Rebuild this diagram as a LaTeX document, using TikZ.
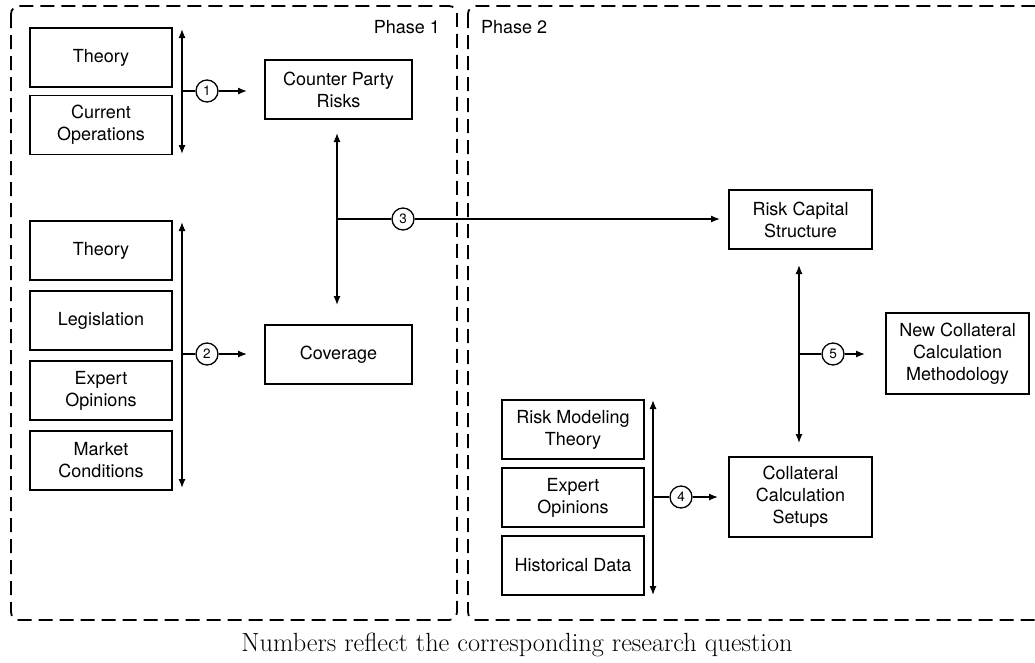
\documentclass[tikz,border=0pt]{standalone}
\usepackage{fontspec}
\setmainfont{Latin Modern Roman}
\newfontfamily\helv{TeX Gyre Heros}
\usetikzlibrary{arrows.meta}
\begin{document}
\begin{tikzpicture}[x=1pt,y=-1pt,
  box/.style={draw,line width=1.4pt,align=center,inner sep=0pt,
    font=\helv\fontsize{18}{22}\selectfont,minimum width=142pt,minimum height=59pt},
  num/.style={draw,circle,line width=1.3pt,minimum size=22pt,inner sep=0pt,
    font=\helv\fontsize{13.5}{13.5}\selectfont},
  link/.style={line width=1.3pt},
  arr/.style={line width=1.3pt,-{Latex[length=9pt,width=7pt]}},
  darr/.style={line width=1.3pt,{Latex[length=9pt,width=7pt]}-{Latex[length=9pt,width=7pt]}},
  phase/.style={draw,dash pattern=on 14pt off 7pt,line width=1.8pt,rounded corners=8pt},
  plabel/.style={font=\helv\fontsize{18}{22}\selectfont,inner sep=0pt}]
\useasboundingbox (0,0) rectangle (1035,662);
\clip (0,0) rectangle (1035,662);

% phase frames
\draw[phase] (11,6) rectangle (457,620);
\draw[phase] (468,6) rectangle (1050,620);
\node[plabel,anchor=east] (p1) at (440,27) {Phase 1};
\node[plabel,anchor=west] (p2) at (481,27) {Phase 2};

% group 1
\node[box] (th1) at (101,57.5) {Theory};
\node[box] (cur) at (101,125) {Current\\Operations};
\coordinate (g1t) at (182,29);
\coordinate (g1b) at (182,154);
\draw[darr] (g1t) -- (g1b);
\coordinate (j1) at (182,91);
\node[num] (c1) at (207,91) {1};
\coordinate (e1) at (247,91);
\draw[link] (j1) -- (c1);
\draw[arr] (c1) -- (e1);
\node[box,minimum width=147pt] (cpr) at (338.5,89.5) {Counter Party\\Risks};

% group 2
\node[box] (th2) at (101,250.5) {Theory};
\node[box] (leg) at (101,320.5) {Legislation};
\node[box] (exp1) at (101,390.5) {Expert\\Opinions};
\node[box] (mkt) at (101,460.5) {Market\\Conditions};
\coordinate (g2t) at (182,222);
\coordinate (g2b) at (182,488);
\draw[darr] (g2t) -- (g2b);
\coordinate (j2) at (182,354);
\node[num] (c2) at (207,354) {2};
\coordinate (e2) at (247,354);
\draw[link] (j2) -- (c2);
\draw[arr] (c2) -- (e2);
\node[box,minimum width=147pt] (cov) at (338.5,354.5) {Coverage};

% link 3
\coordinate (v3t) at (337,133);
\coordinate (v3b) at (337,305);
\draw[darr] (v3t) -- (v3b);
\coordinate (j3) at (337,219);
\node[num] (c3) at (403,219) {3};
\coordinate (e3) at (720,219);
\draw[link] (j3) -- (c3);
\draw[arr] (c3) -- (e3);
\node[box,minimum width=143pt] (rcs) at (800.5,219.5) {Risk Capital\\Structure};

% group 4
\node[box] (rmt) at (573,429.5) {Risk Modeling\\Theory};
\node[box] (exp2) at (573,497.5) {Expert\\Opinions};
\node[box] (hist) at (573,565.5) {Historical Data};
\coordinate (g4t) at (653,400);
\coordinate (g4b) at (653,595);
\draw[darr] (g4t) -- (g4b);
\coordinate (j4) at (653,497);
\node[num] (c4) at (681,497) {4};
\coordinate (e4) at (718,497);
\draw[link] (j4) -- (c4);
\draw[arr] (c4) -- (e4);
\node[box,minimum width=143pt,minimum height=80pt] (ccs) at (800.5,497) {Collateral\\Calculation\\Setups};

% link 5
\coordinate (v5t) at (799,265);
\coordinate (v5b) at (799,443);
\draw[darr] (v5t) -- (v5b);
\coordinate (j5) at (799,354);
\node[num] (c5) at (833,354) {5};
\coordinate (e5) at (865,354);
\draw[link] (j5) -- (c5);
\draw[arr] (c5) -- (e5);
\node[box,minimum width=143pt,minimum height=81pt] (ncm) at (957.5,353.5) {New Collateral\\Calculation\\Methodology};

% caption
\node[font=\fontsize{26.3}{30}\selectfont,inner sep=0pt] (cap) at (517,645) {Numbers reflect the corresponding research question};
\end{tikzpicture}
\end{document}
